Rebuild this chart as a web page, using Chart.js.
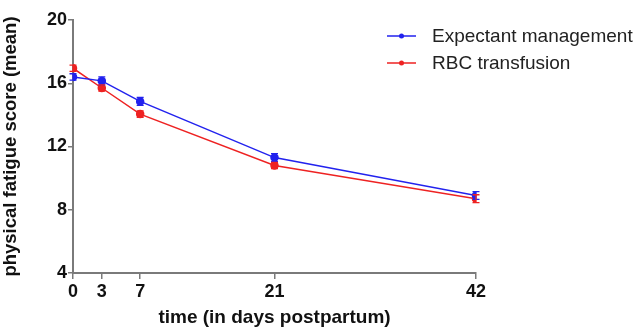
<!DOCTYPE html>
<html>
<head>
<meta charset="utf-8">
<script src="https://cdn.jsdelivr.net/npm/chart.js@4"></script>
<style>
  html, body { margin: 0; padding: 0; background: #fff; }
  #wrap { width: 642px; height: 329px; }
</style>
</head>
<body>
<div id="wrap"><canvas id="chart"></canvas></div>
<script>
const days = [0, 3, 7, 21, 42]
const expectantMean = [16.4, 16.15, 14.85, 11.3, 8.9]
const expectantErr = [0.2, 0.25, 0.25, 0.25, 0.25]
const rbcMean = [16.95, 15.7, 14.05, 10.8, 8.7]
const rbcErr = [0.2, 0.2, 0.2, 0.2, 0.25]
const yTicks = [4, 8, 12, 16, 20]

const BLUE = '#2222ee'
const RED = '#ee2222'
const AXIS = '#7a7a7a'

function points (means) {
  return days.map((d, i) => ({ x: d, y: means[i] }))
}

// vertical error bars with small caps
const errorBars = {
  id: 'errorBars',
  afterDatasetsDraw (chart) {
    const { ctx, scales: { x, y } } = chart
    chart.data.datasets.forEach(ds => {
      ctx.save()
      ctx.strokeStyle = ds.borderColor
      ctx.lineWidth = 1.3
      ds.data.forEach((p, i) => {
        const px = x.getPixelForValue(p.x)
        const top = y.getPixelForValue(p.y + ds.err[i])
        const bot = y.getPixelForValue(p.y - ds.err[i])
        ctx.beginPath()
        ctx.moveTo(px, top); ctx.lineTo(px, bot)
        ctx.moveTo(px - 3.5, top); ctx.lineTo(px + 3.5, top)
        ctx.moveTo(px - 3.5, bot); ctx.lineTo(px + 3.5, bot)
        ctx.stroke()
      })
      ctx.restore()
    })
  }
}

// legend drawn in the top right, overlapping the plot like the original
const sideLegend = {
  id: 'sideLegend',
  afterDraw (chart) {
    const { ctx } = chart
    ctx.save()
    ctx.font = '19px "Liberation Sans", Arial, sans-serif'
    ctx.textBaseline = 'middle'
    chart.data.datasets.forEach((ds, i) => {
      const yy = 36 + i * 27
      ctx.strokeStyle = ds.borderColor
      ctx.fillStyle = ds.borderColor
      ctx.lineWidth = 1.5
      ctx.beginPath()
      ctx.moveTo(387, yy); ctx.lineTo(416, yy)
      ctx.stroke()
      ctx.beginPath()
      ctx.arc(401.5, yy, 2.5, 0, Math.PI * 2)
      ctx.fill()
      ctx.fillStyle = '#222'
      ctx.fillText(ds.label, 432, yy + 1)
    })
    ctx.restore()
  }
}

const tickFont = { family: '"Liberation Sans", Arial, sans-serif', size: 18, weight: 'bold' }

new Chart(document.getElementById('chart'), {
  type: 'line',
  data: {
    datasets: [
      {
        label: 'Expectant management',
        data: points(expectantMean),
        err: expectantErr,
        borderColor: BLUE,
        backgroundColor: BLUE,
        borderWidth: 1.5,
        pointRadius: 3.5,
        pointHoverRadius: 3.5
      },
      {
        label: 'RBC transfusion',
        data: points(rbcMean),
        err: rbcErr,
        borderColor: RED,
        backgroundColor: RED,
        borderWidth: 1.5,
        pointRadius: 3.5,
        pointHoverRadius: 3.5
      }
    ]
  },
  options: {
    responsive: true,
    maintainAspectRatio: false,
    animation: false,
    layout: { padding: { top: 20, right: 166, left: 0, bottom: 0 } },
    plugins: { legend: { display: false }, tooltip: { enabled: false } },
    scales: {
      x: {
        type: 'linear',
        min: 0,
        max: 42,
        afterBuildTicks: s => { s.ticks = days.map(v => ({ value: v })) },
        afterFit: s => { s.height = 56 },
        grid: { display: true, drawOnChartArea: false, tickLength: 6, color: AXIS, lineWidth: 1.5 },
        border: { color: AXIS, width: 2 },
        ticks: { color: '#111', font: tickFont, padding: 2, maxRotation: 0 },
        title: {
          display: true,
          text: 'time (in days postpartum)',
          color: '#111',
          font: { family: '"Liberation Sans", Arial, sans-serif', size: 19, weight: 'bold' },
          padding: { top: 0, bottom: 0 }
        }
      },
      y: {
        min: 4,
        max: 20,
        afterBuildTicks: s => { s.ticks = yTicks.map(v => ({ value: v })) },
        afterFit: s => { s.width = 73 },
        grid: { display: true, drawOnChartArea: false, tickLength: 5, color: AXIS, lineWidth: 1.5 },
        border: { color: AXIS, width: 2 },
        ticks: { color: '#111', font: tickFont, padding: 1 },
        title: {
          display: true,
          text: 'physical fatigue score (mean)',
          color: '#111',
          font: { family: '"Liberation Sans", Arial, sans-serif', size: 18.5, weight: 'bold' },
          padding: { top: 0, bottom: 0 }
        }
      }
    }
  },
  plugins: [errorBars, sideLegend]
})
</script>
</body>
</html>
